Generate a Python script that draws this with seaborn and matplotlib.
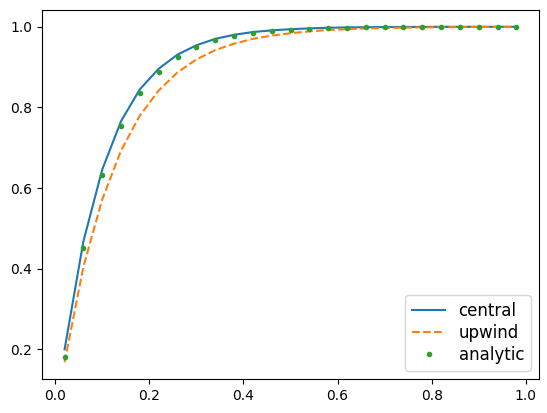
import matplotlib
matplotlib.use("Agg")
import matplotlib.pyplot as plt
import seaborn as sns
import pandas as pd

x = [0.02, 0.06, 0.10, 0.14, 0.18, 0.22, 0.26, 0.30, 0.34, 0.38, 0.42, 0.46, 0.50,
     0.54, 0.58, 0.62, 0.66, 0.70, 0.74, 0.78, 0.82, 0.86, 0.90, 0.94, 0.98]
central = [0.200, 0.468, 0.646, 0.766, 0.845, 0.896, 0.931, 0.954, 0.970, 0.980, 0.987,
           0.991, 0.994, 0.996, 0.9975, 0.9984, 0.9989, 0.9993, 0.9995, 0.9997, 0.9998,
           0.9999, 0.9999, 0.99995, 0.99997]
upwind = [0.168, 0.405, 0.572, 0.693, 0.780, 0.842, 0.887, 0.919, 0.942, 0.958, 0.970,
          0.978, 0.984, 0.9885, 0.9918, 0.9941, 0.9958, 0.997, 0.9978, 0.9984, 0.9989,
          0.9992, 0.9994, 0.9996, 0.9997]
analytic = [0.181, 0.451, 0.632, 0.753, 0.835, 0.889, 0.926, 0.950, 0.967, 0.978, 0.985,
            0.990, 0.993, 0.9955, 0.997, 0.998, 0.9986, 0.9991, 0.9994, 0.9996, 0.9997,
            0.9998, 0.9999, 0.9999, 0.99994]

df = pd.DataFrame({"x": x, "central": central, "upwind": upwind, "analytic": analytic})

plt.rcParams['font.family'] = ['DejaVu Sans']
fig, ax = plt.subplots(figsize=(5.47, 4.13), dpi=100)
pal = sns.color_palette("tab10")
sns.lineplot(data=df, x="x", y="central", ax=ax, color=pal[0], label="central")
sns.lineplot(data=df, x="x", y="upwind", ax=ax, color=pal[1], linestyle="--", label="upwind")
ax.plot(df["x"], df["analytic"], ".", color=pal[2], label="analytic")
ax.set_xlabel("")
ax.set_ylabel("")
ax.set_xticks([0.0, 0.2, 0.4, 0.6, 0.8, 1.0])
ax.set_yticks([0.2, 0.4, 0.6, 0.8, 1.0])
ax.legend(loc="lower right", fontsize=12, labelspacing=0.25)
fig.subplots_adjust(left=42/547, right=539/547, bottom=1-379/413, top=1-10/413)
fig.savefig("out.png", dpi=100)
